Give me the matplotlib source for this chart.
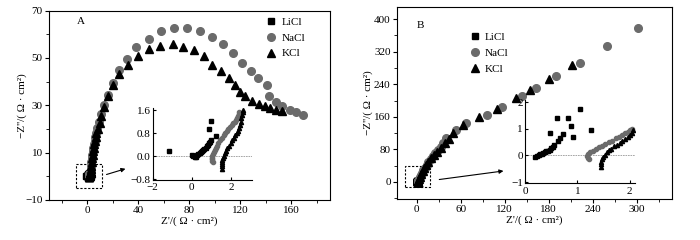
import numpy as np
import matplotlib
matplotlib.use("Agg")
import matplotlib.pyplot as plt
from matplotlib.patches import Rectangle
from matplotlib.ticker import MultipleLocator

plt.rcParams['font.family'] = ['Liberation Serif', 'DejaVu Serif']
plt.rcParams['font.size'] = 8
plt.rcParams['axes.unicode_minus'] = True

GRAY = '#6b6b6b'

# ---------------- panel A : insets (low impedance region) ----------------
li_a_in_x = [-1.17, 0.0, 0.08, 0.15, 0.22, 0.28, 0.34, 0.40, 0.46, 0.52, 0.58, 0.64,
             0.70, 0.76, 0.82, 0.88, 0.94, 1.0, 0.86, 1.0, 1.22]
li_a_in_y = [0.17, 0.03, 0.01, -0.02, -0.02, 0.04, 0.08, 0.12, 0.15, 0.18, 0.21, 0.25,
             0.30, 0.35, 0.40, 0.45, 0.51, 0.58, 0.94, 1.23, 0.69]
na_a_in_x = [1.07, 1.05, 1.04, 1.03, 1.05, 1.08, 1.12, 1.17, 1.22, 1.28, 1.36, 1.44, 1.53,
             1.62, 1.70, 1.78, 1.86, 1.95, 2.03, 2.12, 2.20, 2.27, 2.32, 2.36, 2.39, 2.42]
na_a_in_y = [-0.21, -0.15, -0.10, -0.05, 0.02, 0.08, 0.14, 0.21, 0.29, 0.37, 0.46, 0.55, 0.63,
             0.72, 0.80, 0.87, 0.94, 1.02, 1.09, 1.15, 1.20, 1.26, 1.31, 1.38, 1.46, 1.54]
k_a_in_x = [1.53, 1.53, 1.53, 1.54, 1.55, 1.58, 1.62, 1.68, 1.74, 1.81, 1.89, 1.98,
            2.06, 2.15, 2.22, 2.29, 2.35, 2.41, 2.45, 2.49, 2.53, 2.58, 2.61, 2.63]
k_a_in_y = [-0.43, -0.35, -0.28, -0.21, -0.14, -0.06, 0.02, 0.11, 0.20, 0.29, 0.37, 0.46,
            0.55, 0.63, 0.72, 0.80, 0.88, 0.97, 1.08, 1.20, 1.31, 1.43, 1.52, 1.60]

# ---------------- panel A : main arcs ----------------
na_a_x = [2.6, 2.8, 3.0, 3.3, 3.6, 4.0, 4.4, 4.8, 5.2, 5.7, 6.2, 6.9, 7.8, 9.2, 10.8, 12.8,
          16.2, 20, 24.5, 31, 38.5, 48, 57.5, 67.7, 78.4, 88, 98, 106.5, 114, 121.6, 128,
          134, 141, 142.5, 147.6, 152.8, 158.6, 163.8, 169]
na_a_y = [1.6, 3, 4.5, 6, 7.5, 9, 10.5, 12, 13.5, 15, 16.5, 18.3, 20.2, 23, 26.5, 30,
          34.5, 39.4, 44.7, 49.7, 54.4, 58, 61.3, 62.6, 62.6, 61.5, 59, 55.8, 52, 47.8, 44.3,
          41.5, 38.6, 33.7, 31.3, 29.5, 28, 27, 26]
k_a_x = [2.7, 2.9, 3.2, 3.5, 3.9, 4.3, 4.7, 5.1, 5.5, 6.0, 6.5, 7.2, 8.2, 9.6, 11, 12.8,
         16, 20, 25, 31.8, 39.6, 48.4, 57, 67, 75, 83.6, 91.4, 98, 105, 111, 115.6, 119.5,
         124, 129, 134.6, 139, 143.5, 148, 153]
k_a_y = [1.6, 3, 4.5, 6, 7.5, 9, 10.5, 12, 13.5, 15, 16.5, 18.2, 20, 22.3, 25.3, 29.3,
         33.7, 38.6, 43, 47, 51, 53.8, 55, 55.8, 54.8, 53.4, 50.6, 47, 44.3, 41.5, 38.4, 35.8,
         33.7, 31.6, 30.5, 29.5, 28.8, 28, 27.7]

# ---------------- panel B : insets ----------------
li_b_in_x = [0.20, 0.23, 0.26, 0.29, 0.32, 0.35, 0.38, 0.41, 0.44, 0.47, 0.50, 0.53, 0.55,
             0.47, 0.62, 0.66, 0.64, 0.72, 0.82, 0.88, 0.92, 1.06, 1.27]
li_b_in_y = [-0.05, -0.02, 0.01, 0.04, 0.06, 0.09, 0.12, 0.15, 0.18, 0.22, 0.27, 0.33, 0.39,
             0.83, 1.39, 0.66, 0.54, 0.79, 1.39, 1.10, 0.68, 1.76, 0.95]
na_b_in_x = [1.22, 1.20, 1.19, 1.21, 1.25, 1.30, 1.35, 1.41, 1.47, 1.53, 1.60, 1.66, 1.73,
             1.79, 1.86, 1.91, 1.96, 2.01, 2.05]
na_b_in_y = [-0.15, -0.10, -0.04, 0.04, 0.11, 0.17, 0.23, 0.30, 0.36, 0.42, 0.49, 0.56, 0.64,
             0.70, 0.76, 0.83, 0.89, 0.95, 1.00]
k_b_in_x = [1.46, 1.46, 1.46, 1.47, 1.49, 1.52, 1.56, 1.60, 1.65, 1.70, 1.76, 1.81, 1.86,
            1.91, 1.96, 2.00, 2.04, 2.07]
k_b_in_y = [-0.43, -0.33, -0.24, -0.14, -0.05, 0.03, 0.11, 0.19, 0.26, 0.34, 0.41, 0.48, 0.54,
            0.62, 0.70, 0.78, 0.86, 0.95]

# ---------------- panel B : main lines ----------------
na_b_x = [3, 4, 5.5, 7, 9, 11, 13.5, 16, 19, 22, 25.5, 29, 33, 36, 39.6, 53, 67, 96, 116,
          143, 162, 190, 222, 260, 301]
na_b_y = [6, 11, 17, 23, 29, 35, 42, 49, 56, 63, 70, 78, 86, 95, 108, 128, 144, 164, 183,
          211, 232, 260, 293, 334, 379]
k_b_x = [3, 4.5, 6, 8, 10.5, 13, 16, 19.5, 23.5, 28, 33, 38, 43.5, 49.5, 63, 85, 109, 135,
         154, 180, 212]
k_b_y = [6, 13, 20, 27, 35, 42, 50, 58, 66, 74, 83, 95, 105, 120, 140, 159, 178, 205,
         226, 254, 287]

labels = ['LiCl', 'NaCl', 'KCl']
xlab = "Z'/( Ω · cm²)"
ylab = "−Z''/( Ω · cm²)"


def draw_main(ax, li, na, k, ms):
    ax.plot(li[0], li[1], 's', color='black', ms=ms * 0.9, ls='none', label=labels[0])
    ax.plot(na[0], na[1], 'o', color=GRAY, ms=ms, ls='none', label=labels[1])
    ax.plot(k[0], k[1], '^', color='black', ms=ms, ls='none', label=labels[2])


def draw_inset(ax, li, na, k):
    ax.axhline(0, color='#999999', lw=0.6, ls=(0, (2, 1)), zorder=0)
    ax.plot(li[0], li[1], 's', color='black', ms=2.4, ls='none')
    ax.plot(na[0], na[1], 'o', color=GRAY, ms=3, ls='none')
    ax.plot(k[0], k[1], '^', color='black', ms=3, ls='none')
    ax.spines['top'].set_visible(False)
    ax.spines['right'].set_visible(False)
    ax.tick_params(direction='in', length=2.5, labelsize=8, pad=1.5)
    ax.tick_params(axis='x', pad=2.5)
    ax.patch.set_alpha(0)


fig = plt.figure(figsize=(7, 2.4), dpi=100)

# ---------- A ----------
axA = fig.add_axes([0.07, 0.167, 0.401, 0.789])
draw_main(axA, (li_a_in_x, li_a_in_y),
          (na_a_in_x + na_a_x, na_a_in_y + na_a_y),
          (k_a_in_x + k_a_x, k_a_in_y + k_a_y), 5.5)
axA.set_xlim(-30, 190)
axA.set_ylim(-10, 70)
axA.xaxis.set_major_locator(MultipleLocator(40))
axA.xaxis.set_minor_locator(MultipleLocator(20))
axA.set_yticks([-10, 10, 30, 50, 70])
axA.set_yticks([0, 20, 40, 60], minor=True)
axA.tick_params(which='both', direction='out', top=False, right=False, pad=1.5)
axA.tick_params(which='major', length=3)
axA.tick_params(which='minor', length=2)
axA.set_xlabel(xlab, labelpad=1)
axA.set_ylabel(ylab, labelpad=-1)
axA.text(0.115, 0.94, 'A', transform=axA.transAxes, ha='center', va='center')
axA.legend(loc='upper left', bbox_to_anchor=(0.76, 0.99), frameon=False,
           handlelength=0.8, handletextpad=0.5, labelspacing=0.55, borderaxespad=0,
           markerscale=1.0)
axA.add_patch(Rectangle((-8.6, -5), 20.1, 10, fill=False, ls=(0, (2, 1.5)), lw=0.8))
axA.annotate('', xy=(32, 3.5), xytext=(13, 0.4),
             arrowprops=dict(arrowstyle='-|>', color='black', lw=0.8, mutation_scale=6))

inA = fig.add_axes([0.218, 0.25, 0.1414, 0.30])
draw_inset(inA, (li_a_in_x, li_a_in_y), (na_a_in_x, na_a_in_y), (k_a_in_x, k_a_in_y))
inA.set_xlim(-2, 3.05)
inA.set_ylim(-0.82, 1.67)
inA.set_xticks([-2, 0, 2])
inA.set_yticks([-0.8, 0.0, 0.8, 1.6])
inA.set_yticklabels(['−0.8', '0.0', '0.8', '1.6'])

# ---------- B ----------
axB = fig.add_axes([0.567, 0.171, 0.393, 0.80])
draw_main(axB, (li_b_in_x, li_b_in_y),
          (na_b_in_x + na_b_x, na_b_in_y + na_b_y),
          (k_b_in_x + k_b_x, k_b_in_y + k_b_y), 5.5)
axB.set_xlim(-27, 348)
axB.set_ylim(-42, 430)
axB.xaxis.set_major_locator(MultipleLocator(60))
axB.xaxis.set_minor_locator(MultipleLocator(30))
axB.yaxis.set_major_locator(MultipleLocator(80))
axB.yaxis.set_minor_locator(MultipleLocator(40))
axB.tick_params(which='both', direction='out', top=False, right=False, pad=1.5)
axB.tick_params(which='major', length=3)
axB.tick_params(which='minor', length=2)
axB.set_xlabel(xlab, labelpad=1)
axB.set_ylabel(ylab, labelpad=1)
axB.text(0.084, 0.906, 'B', transform=axB.transAxes, ha='center', va='center')
axB.legend(loc='upper left', bbox_to_anchor=(0.25, 0.89), frameon=False,
           handlelength=0.8, handletextpad=0.5, labelspacing=0.55, borderaxespad=0,
           markerscale=1.0)
axB.add_patch(Rectangle((-15.4, -13), 33.1, 52, fill=False, ls=(0, (2, 1.5)), lw=0.8))
axB.annotate('', xy=(122, 27.7), xytext=(27, 4.9),
             arrowprops=dict(arrowstyle='-|>', color='black', lw=0.8, mutation_scale=6))

inB = fig.add_axes([0.75, 0.236, 0.157, 0.347])
draw_inset(inB, (li_b_in_x, li_b_in_y), (na_b_in_x, na_b_in_y), (k_b_in_x, k_b_in_y))
inB.set_xlim(0, 2.1)
inB.set_ylim(-1.05, 2.08)
inB.set_xticks([0, 1, 2])
inB.set_yticks([-1, 0, 1, 2])

fig.savefig('out.png', dpi=100)
